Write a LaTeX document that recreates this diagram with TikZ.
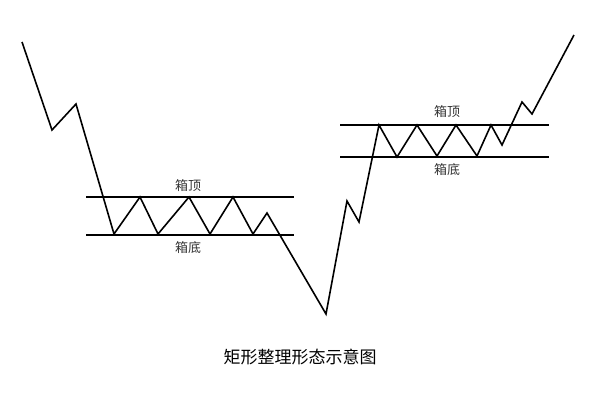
\documentclass[tikz,border=0pt]{standalone}
\usepackage{fontspec}
\newfontfamily\cjk{Noto Sans CJK SC}
\begin{document}
\begin{tikzpicture}[x=1pt,y=-1pt,
  price/.style={line width=1.6pt,line join=miter},
  band/.style={line width=1.4pt},
  lbl/.style={font=\cjk\fontsize{13}{13}\selectfont,text=black!80}]
\useasboundingbox (0,0) rectangle (600,400);
\draw[band] (86,197) coordinate (a1) -- (294,197) coordinate (a2);
\draw[band] (86,235) coordinate (b1) -- (294,235) coordinate (b2);
\draw[band] (340,125) coordinate (c1) -- (549,125) coordinate (c2);
\draw[band] (340,157) coordinate (d1) -- (549,157) coordinate (d2);
\draw[price] (22,42) -- (52,130) -- (76,104) -- (114,234) -- (140,197) -- (158,234) -- (189,197) -- (210,234) -- (233,197) -- (253,234) -- (267,213) -- (326,314) -- (347,201) -- (359,222) -- (379,125) -- (397,157) -- (417,125) -- (437,156) -- (456,125) -- (477,156) -- (491,125) -- (502,145) -- (522,102) -- (532,114) -- (574,35);
\node[lbl] (t1) at (188,186) {箱顶};
\node[lbl] (u1) at (188,248) {箱底};
\node[lbl] (t2) at (447,112) {箱顶};
\node[lbl] (u2) at (447,170) {箱底};
\node[font=\cjk\fontsize{17}{17}\selectfont] (title) at (300,357) {矩形整理形态示意图};
\end{tikzpicture}
\end{document}
